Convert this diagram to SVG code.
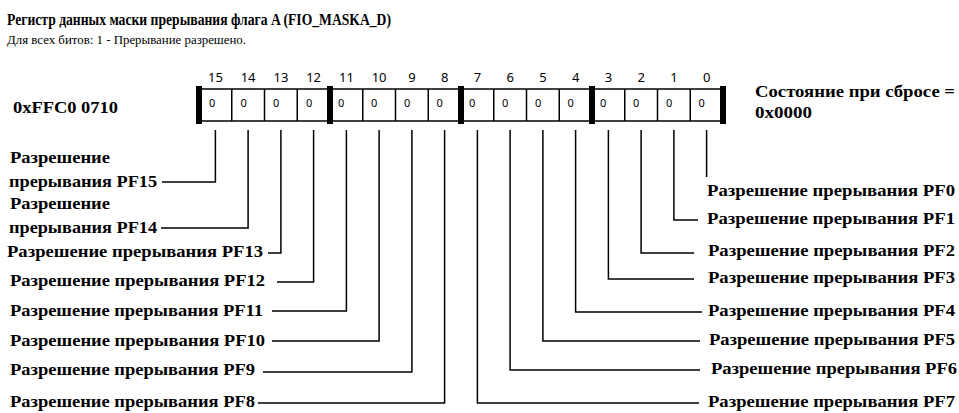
<svg xmlns="http://www.w3.org/2000/svg" width="959" height="413" viewBox="0 0 959 413">
<style>
  .lbl { font-family: "Liberation Serif", "Times New Roman", serif; font-weight: bold; font-size: 16px; fill: #000; }
  .title { font-family: "Liberation Serif", serif; font-weight: bold; font-size: 17px; fill: #000; }
  .sub { font-family: "Liberation Serif", serif; font-size: 13px; fill: #000; }
  .num { font-family: "Noto Sans", "Liberation Sans", sans-serif; font-size: 13px; fill: #000; text-anchor: middle; }
  .zero { font-family: "Noto Sans", "Liberation Sans", sans-serif; font-size: 11px; fill: #000; }
  .thin { stroke: #000; stroke-width: 1.5; fill: none; }
  .bar { fill: #000; }
  .conn { stroke: #000; stroke-width: 1.5; fill: none; }
</style>
<rect width="959" height="413" fill="#fff"/>

<g id="title">
  <text class="title" x="7" y="25" textLength="384" lengthAdjust="spacingAndGlyphs">Регистр данных маски прерывания флага A (FIO_MASKA_D)</text>
  <text class="sub" x="7" y="44" textLength="239" lengthAdjust="spacingAndGlyphs">Для всех битов: 1 - Прерывание разрешено.</text>
</g>

<g id="address">
  <text class="lbl" x="13" y="113" textLength="105" lengthAdjust="spacingAndGlyphs">0xFFC0 0710</text>
</g>

<g id="reset">
  <text class="lbl" x="755" y="97" textLength="200" lengthAdjust="spacingAndGlyphs">Состояние при сбросе =</text>
  <text class="lbl" x="755" y="118" textLength="57" lengthAdjust="spacingAndGlyphs">0x0000</text>
</g>

<g id="register">
  <line class="thin" x1="199" y1="89" x2="723" y2="89"/>
  <line class="thin" x1="199" y1="121" x2="723" y2="121"/>
  <rect class="bar" x="196" y="86" width="6" height="38"/>
  <rect class="bar" x="327" y="86" width="6" height="38"/>
  <rect class="bar" x="458" y="86" width="6" height="38"/>
  <rect class="bar" x="589" y="86" width="6" height="38"/>
  <rect class="bar" x="720" y="86" width="6" height="38"/>
  <line class="thin" x1="231.75" y1="89" x2="231.75" y2="121"/>
  <line class="thin" x1="264.5" y1="89" x2="264.5" y2="121"/>
  <line class="thin" x1="297.25" y1="89" x2="297.25" y2="121"/>
  <line class="thin" x1="362.75" y1="89" x2="362.75" y2="121"/>
  <line class="thin" x1="395.5" y1="89" x2="395.5" y2="121"/>
  <line class="thin" x1="428.25" y1="89" x2="428.25" y2="121"/>
  <line class="thin" x1="493.75" y1="89" x2="493.75" y2="121"/>
  <line class="thin" x1="526.5" y1="89" x2="526.5" y2="121"/>
  <line class="thin" x1="559.25" y1="89" x2="559.25" y2="121"/>
  <line class="thin" x1="624.75" y1="89" x2="624.75" y2="121"/>
  <line class="thin" x1="657.5" y1="89" x2="657.5" y2="121"/>
  <line class="thin" x1="690.25" y1="89" x2="690.25" y2="121"/>
  <g id="bitnums">
    <text class="num" x="215.4" y="82">15</text>
    <text class="num" x="248.1" y="82">14</text>
    <text class="num" x="280.9" y="82">13</text>
    <text class="num" x="313.6" y="82">12</text>
    <text class="num" x="346.4" y="82">11</text>
    <text class="num" x="379.1" y="82">10</text>
    <text class="num" x="411.9" y="82">9</text>
    <text class="num" x="444.6" y="82">8</text>
    <text class="num" x="477.4" y="82">7</text>
    <text class="num" x="510.1" y="82">6</text>
    <text class="num" x="542.9" y="82">5</text>
    <text class="num" x="575.6" y="82">4</text>
    <text class="num" x="608.4" y="82">3</text>
    <text class="num" x="641.1" y="82">2</text>
    <text class="num" x="673.9" y="82">1</text>
    <text class="num" x="706.6" y="82">0</text>
  </g>
  <g id="bitvals">
    <text class="zero" x="209" y="107">0</text>
    <text class="zero" x="240.5" y="107">0</text>
    <text class="zero" x="273" y="107">0</text>
    <text class="zero" x="306" y="107">0</text>
    <text class="zero" x="338" y="107">0</text>
    <text class="zero" x="371" y="107">0</text>
    <text class="zero" x="404" y="107">0</text>
    <text class="zero" x="436.5" y="107">0</text>
    <text class="zero" x="469" y="107">0</text>
    <text class="zero" x="502" y="107">0</text>
    <text class="zero" x="535" y="107">0</text>
    <text class="zero" x="567.5" y="107">0</text>
    <text class="zero" x="600" y="107">0</text>
    <text class="zero" x="633" y="107">0</text>
    <text class="zero" x="666" y="107">0</text>
    <text class="zero" x="698.5" y="107">0</text>
  </g>
</g>

<g id="connectors">
  <polyline class="conn" points="215.4,130 215.4,182 162,182"/>
  <polyline class="conn" points="248.1,130 248.1,228 161,228"/>
  <polyline class="conn" points="280.9,130 280.9,253 268,253"/>
  <polyline class="conn" points="313.6,130 313.6,282 277,282"/>
  <polyline class="conn" points="346.4,130 346.4,311 272,311"/>
  <polyline class="conn" points="379.1,130 379.1,341 272,341"/>
  <polyline class="conn" points="411.9,130 411.9,372 263,372"/>
  <polyline class="conn" points="444.6,130 444.6,403 258,403"/>
  <polyline class="conn" points="477.4,130 477.4,403 699,403"/>
  <polyline class="conn" points="510.1,130 510.1,370 700,370"/>
  <polyline class="conn" points="542.9,130 542.9,341 700,341"/>
  <polyline class="conn" points="575.6,130 575.6,312 702,312"/>
  <polyline class="conn" points="608.4,130 608.4,279 694,279"/>
  <polyline class="conn" points="641.1,130 641.1,253 694,253"/>
  <polyline class="conn" points="673.9,130 673.9,220 698,220"/>
  <polyline class="conn" points="706.6,130 706.6,177"/>
</g>

<g id="label-pf15">
  <text class="lbl" x="10" y="163" textLength="100" lengthAdjust="spacingAndGlyphs">Разрешение</text>
  <text class="lbl" x="9" y="187" textLength="148" lengthAdjust="spacingAndGlyphs">прерывания PF15</text>
</g>
<g id="label-pf14">
  <text class="lbl" x="10" y="209" textLength="100" lengthAdjust="spacingAndGlyphs">Разрешение</text>
  <text class="lbl" x="9" y="233" textLength="148" lengthAdjust="spacingAndGlyphs">прерывания PF14</text>
</g>
<g id="label-pf13"><text class="lbl" x="7" y="257" textLength="256" lengthAdjust="spacingAndGlyphs">Разрешение прерывания PF13</text></g>
<g id="label-pf12"><text class="lbl" x="10" y="286" textLength="255" lengthAdjust="spacingAndGlyphs">Разрешение прерывания PF12</text></g>
<g id="label-pf11"><text class="lbl" x="10" y="316" textLength="253" lengthAdjust="spacingAndGlyphs">Разрешение прерывания PF11</text></g>
<g id="label-pf10"><text class="lbl" x="10" y="346" textLength="255" lengthAdjust="spacingAndGlyphs">Разрешение прерывания PF10</text></g>
<g id="label-pf9"><text class="lbl" x="10" y="375" textLength="245" lengthAdjust="spacingAndGlyphs">Разрешение прерывания PF9</text></g>
<g id="label-pf8"><text class="lbl" x="10" y="407" textLength="245" lengthAdjust="spacingAndGlyphs">Разрешение прерывания PF8</text></g>

<g id="label-pf0"><text class="lbl" x="707" y="196" textLength="248" lengthAdjust="spacingAndGlyphs">Разрешение прерывания PF0</text></g>
<g id="label-pf1"><text class="lbl" x="707" y="224" textLength="248" lengthAdjust="spacingAndGlyphs">Разрешение прерывания PF1</text></g>
<g id="label-pf2"><text class="lbl" x="708" y="256" textLength="247" lengthAdjust="spacingAndGlyphs">Разрешение прерывания PF2</text></g>
<g id="label-pf3"><text class="lbl" x="708" y="283" textLength="247" lengthAdjust="spacingAndGlyphs">Разрешение прерывания PF3</text></g>
<g id="label-pf4"><text class="lbl" x="708" y="316" textLength="247" lengthAdjust="spacingAndGlyphs">Разрешение прерывания PF4</text></g>
<g id="label-pf5"><text class="lbl" x="709" y="345" textLength="246" lengthAdjust="spacingAndGlyphs">Разрешение прерывания PF5</text></g>
<g id="label-pf6"><text class="lbl" x="711" y="374" textLength="246" lengthAdjust="spacingAndGlyphs">Разрешение прерывания PF6</text></g>
<g id="label-pf7"><text class="lbl" x="708" y="407" textLength="247" lengthAdjust="spacingAndGlyphs">Разрешение прерывания PF7</text></g>
</svg>
